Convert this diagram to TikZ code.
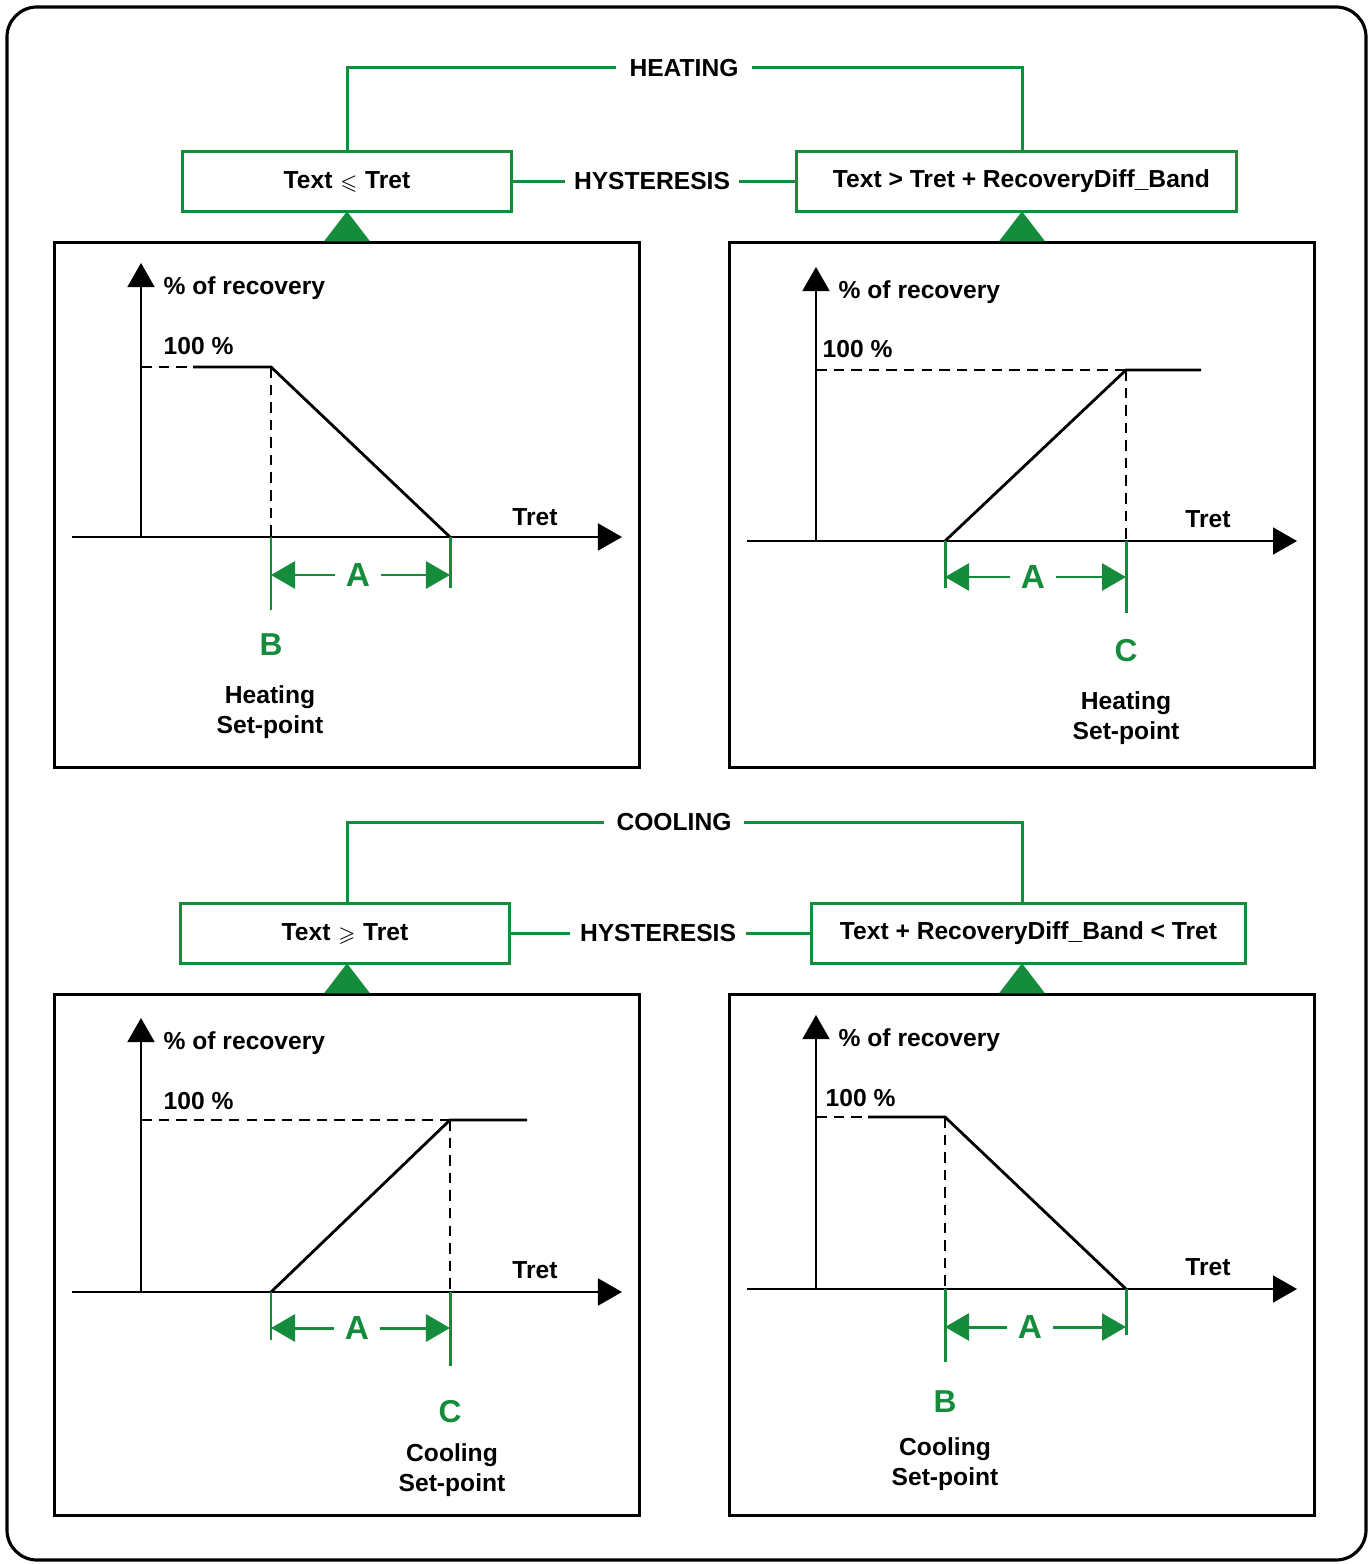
\documentclass[tikz,border=0pt]{standalone}
\usepackage{fontspec}
\usepackage{amssymb}
\setmainfont{Liberation Sans}
\usetikzlibrary{arrows.meta}
\definecolor{hvacgreen}{RGB}{20,140,60}

\begin{document}
\begin{tikzpicture}[x=0.01cm, y=0.01cm,
    font=\fontsize{7}{8.5}\selectfont\bfseries,
    grn/.style={draw=hvacgreen, line width=0.85pt},
    condbox/.style={grn, minimum height=0.59cm},
    chartbox/.style={draw=black, line width=0.85pt, minimum width=5.84cm},
    axisline/.style={line width=0.45pt, -{Triangle[length=0.24cm,width=0.27cm]}},
    rampline/.style={line width=0.8pt},
    guide/.style={line width=0.35pt, dash pattern=on 3pt off 2pt},
    dimarrow/.style={grn, -{Triangle[length=0.24cm,width=0.27cm]}},
    setletter/.style={text=hvacgreen, font=\fontsize{9}{9}\selectfont\bfseries},
    aletter/.style={text=hvacgreen, inner xsep=0.1cm, font=\fontsize{9.5}{9.5}\selectfont\bfseries}]
    \tikzstyle{every node}+=[inner sep=0pt]
    \useasboundingbox (0,0) rectangle (1370,-1564);
    \draw [line width=0.9pt, rounded corners=0.3cm] (7,-7) rectangle (1366,-1560);
    % heating
    \draw (684,-68) node [inner xsep=0.13cm] (heat) {HEATING};
    \draw (347,-181.5) node [condbox, minimum width=3.28cm] (boxHL) {Text ${\scriptstyle\leqslant}$ Tret};
    \draw (652,-181.5) node [inner xsep=0.08cm] (hystH) {HYSTERESIS};
    \draw (1016.5,-181.5) node [condbox, minimum width=4.39cm] (boxHR) {\hspace{0.1cm}Text > Tret + RecoveryDiff\_Band};
    \draw (347,-505) node [chartbox, minimum height=5.24cm] (chartHL) {};
    \draw (1022,-505) node [chartbox, minimum height=5.24cm] (chartHR) {};
    \draw [grn] (heat.west) -| (boxHL.north);
    \draw [grn] (heat.east) -| (chartHR.north |- boxHR.north);
    \draw [grn] (hystH.west) -- (boxHL.east);
    \draw [grn] (hystH.east) -- (boxHR.west);
    \fill [hvacgreen] (chartHL.north) ++(-23,0) -- ++(23,30) -- ++(23,-30) -- cycle;
    \fill [hvacgreen] (chartHR.north) ++(-23,0) -- ++(23,30) -- ++(23,-30) -- cycle;
    % heating, left chart
    \draw [axisline] (72,-537) -- (622,-537);
    \draw [axisline] (141,-537) -- (141,-263);
    \draw (163,-288) node [anchor=west] (pctHL) {\% of recovery};
    \draw (163,-346) node [anchor=west] (fullHL) {100 \%};
    \draw (535,-517) node (tretHL) {Tret};
    \draw [guide] (141,-367) -- (193,-367);
    \draw [guide] (271,-367) -- (271,-537);
    \draw [rampline] (193,-367) -- (271,-367) -- (450,-537);
    \draw [grn] (271,-537) -- (271,-610);
    \draw [grn] (450,-537) -- (450,-588);
    \coordinate (lhsHL) at (271,-575);
    \coordinate (rhsHL) at (450,-575);
    \draw (358,-575) node [aletter] (aHL) {A};
    \draw [dimarrow] (aHL.west) -- (lhsHL);
    \draw [dimarrow] (aHL.east) -- (rhsHL);
    \draw (271,-645) node [setletter] (ptHL) {B};
    \draw (270,-712) node [align=center] (spHL) {Heating\\Set-point};
    % heating, right chart
    \draw [axisline] (747,-541) -- (1297,-541);
    \draw [axisline] (816,-541) -- (816,-267);
    \draw (838,-292) node [anchor=west] (pctHR) {\% of recovery};
    \draw (822,-349) node [anchor=west] (fullHR) {100 \%};
    \draw (1208,-519) node (tretHR) {Tret};
    \draw [guide] (816,-370) -- (1126,-370);
    \draw [guide] (1126,-370) -- (1126,-541);
    \draw [rampline] (945,-541) -- (1126,-370) -- (1201,-370);
    \draw [grn] (945,-541) -- (945,-588);
    \draw [grn] (1126,-541) -- (1126,-613);
    \coordinate (lhsHR) at (945,-577);
    \coordinate (rhsHR) at (1126,-577);
    \draw (1033,-577) node [aletter] (aHR) {A};
    \draw [dimarrow] (aHR.west) -- (lhsHR);
    \draw [dimarrow] (aHR.east) -- (rhsHR);
    \draw (1126,-651) node [setletter] (ptHR) {C};
    \draw (1126,-718) node [align=center] (spHR) {Heating\\Set-point};
    % cooling
    \draw (674,-822) node [inner xsep=0.12cm] (cool) {COOLING};
    \draw (345,-933.5) node [condbox, minimum width=3.28cm] (boxCL) {Text ${\scriptstyle\geqslant}$ Tret};
    \draw (658,-933.5) node [inner xsep=0.09cm] (hystC) {HYSTERESIS};
    \draw (1028.5,-933.5) node [condbox, minimum width=4.33cm] (boxCR) {Text + RecoveryDiff\_Band < Tret};
    \draw (347,-1255) node [chartbox, minimum height=5.2cm] (chartCL) {};
    \draw (1022,-1255) node [chartbox, minimum height=5.2cm] (chartCR) {};
    \draw [grn] (cool.west) -| (chartCL.north |- boxCL.north);
    \draw [grn] (cool.east) -| (chartCR.north |- boxCR.north);
    \draw [grn] (hystC.west) -- (boxCL.east);
    \draw [grn] (hystC.east) -- (boxCR.west);
    \fill [hvacgreen] (chartCL.north) ++(-23,0) -- ++(23,30) -- ++(23,-30) -- cycle;
    \fill [hvacgreen] (chartCR.north) ++(-23,0) -- ++(23,30) -- ++(23,-30) -- cycle;
    % cooling, left chart
    \draw [axisline] (72,-1292) -- (622,-1292);
    \draw [axisline] (141,-1292) -- (141,-1018);
    \draw (163,-1043) node [anchor=west] (pctCL) {\% of recovery};
    \draw (163,-1101) node [anchor=west] (fullCL) {100 \%};
    \draw (535,-1270) node (tretCL) {Tret};
    \draw [guide] (141,-1120) -- (450,-1120);
    \draw [guide] (450,-1120) -- (450,-1292);
    \draw [rampline] (271,-1292) -- (450,-1120) -- (527,-1120);
    \draw [grn] (271,-1292) -- (271,-1340);
    \draw [grn] (450,-1292) -- (450,-1366);
    \coordinate (lhsCL) at (271,-1328);
    \coordinate (rhsCL) at (450,-1328);
    \draw (357,-1328) node [aletter] (aCL) {A};
    \draw [dimarrow] (aCL.west) -- (lhsCL);
    \draw [dimarrow] (aCL.east) -- (rhsCL);
    \draw (450,-1412) node [setletter] (ptCL) {C};
    \draw (452,-1470) node [align=center] (spCL) {Cooling\\Set-point};
    % cooling, right chart
    \draw [axisline] (747,-1289) -- (1297,-1289);
    \draw [axisline] (816,-1289) -- (816,-1015);
    \draw (838,-1040) node [anchor=west] (pctCR) {\% of recovery};
    \draw (825,-1098) node [anchor=west] (fullCR) {100 \%};
    \draw (1208,-1267) node (tretCR) {Tret};
    \draw [guide] (816,-1117) -- (868,-1117);
    \draw [guide] (945,-1117) -- (945,-1289);
    \draw [rampline] (868,-1117) -- (945,-1117) -- (1126,-1289);
    \draw [grn] (945,-1289) -- (945,-1362);
    \draw [grn] (1126,-1289) -- (1126,-1335);
    \coordinate (lhsCR) at (945,-1327);
    \coordinate (rhsCR) at (1126,-1327);
    \draw (1030,-1327) node [aletter] (aCR) {A};
    \draw [dimarrow] (aCR.west) -- (lhsCR);
    \draw [dimarrow] (aCR.east) -- (rhsCR);
    \draw (945,-1402) node [setletter] (ptCR) {B};
    \draw (945,-1464) node [align=center] (spCR) {Cooling\\Set-point};
\end{tikzpicture}
\end{document}
